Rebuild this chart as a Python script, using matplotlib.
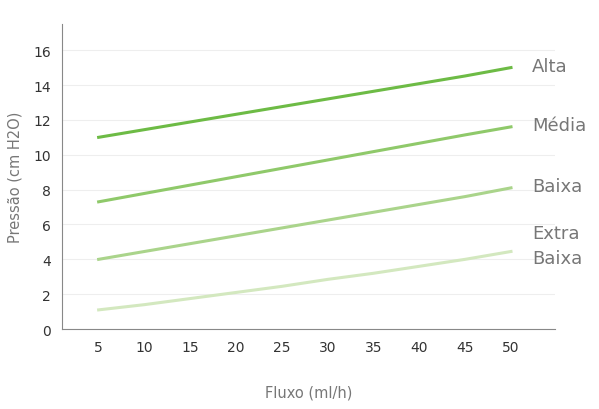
import matplotlib
matplotlib.use("Agg")
import matplotlib.pyplot as plt

fluxo = [5, 10, 15, 20, 25, 30, 35, 40, 45, 50]
alta = [11.0, 11.44, 11.88, 12.32, 12.76, 13.2, 13.64, 14.08, 14.52, 15.0]
media = [7.3, 7.78, 8.26, 8.74, 9.22, 9.7, 10.18, 10.66, 11.14, 11.6]
baixa = [4.0, 4.45, 4.9, 5.35, 5.8, 6.25, 6.7, 7.15, 7.6, 8.1]
extra = [1.1, 1.4, 1.75, 2.1, 2.45, 2.85, 3.2, 3.6, 4.0, 4.45]
series = [("Alta", alta, "#6dbb45"), ("Média", media, "#8fc96a"),
          ("Baixa", baixa, "#aad48b"), ("Extra\nBaixa", extra, "#d3e8bf")]
GREY = "#777777"

fig = plt.figure(figsize=(5.99, 4.10), dpi=100)
ax = fig.add_axes([0.1035, 0.195, 0.823, 0.744])
for name, vals, c in series:
    ax.plot(fluxo, vals, color=c, lw=2.2)
    ax.text(52.3, vals[-1] + (0.1 if "\n" not in name else 0.35),
            name, color=GREY, fontsize=13, va="center", ha="left", linespacing=1.5)
ax.set_xlim(1, 54.8)
ax.set_ylim(0, 17.5)
ax.set_xticks(fluxo)
ax.set_yticks(range(0, 17, 2))
ax.yaxis.grid(True, color="#eeeeee", lw=0.8)
ax.set_axisbelow(True)
for s in ["top", "right"]:
    ax.spines[s].set_visible(False)
for s in ["left", "bottom"]:
    ax.spines[s].set_color("#888888")
ax.tick_params(colors="#333333", labelsize=10, length=0, pad=8)
ax.set_xlabel("Fluxo (ml/h)", color=GREY, fontsize=10.5, labelpad=22)
ax.set_ylabel("Pressão (cm H2O)", color=GREY, fontsize=10.5, labelpad=8)
fig.savefig("out.png")
